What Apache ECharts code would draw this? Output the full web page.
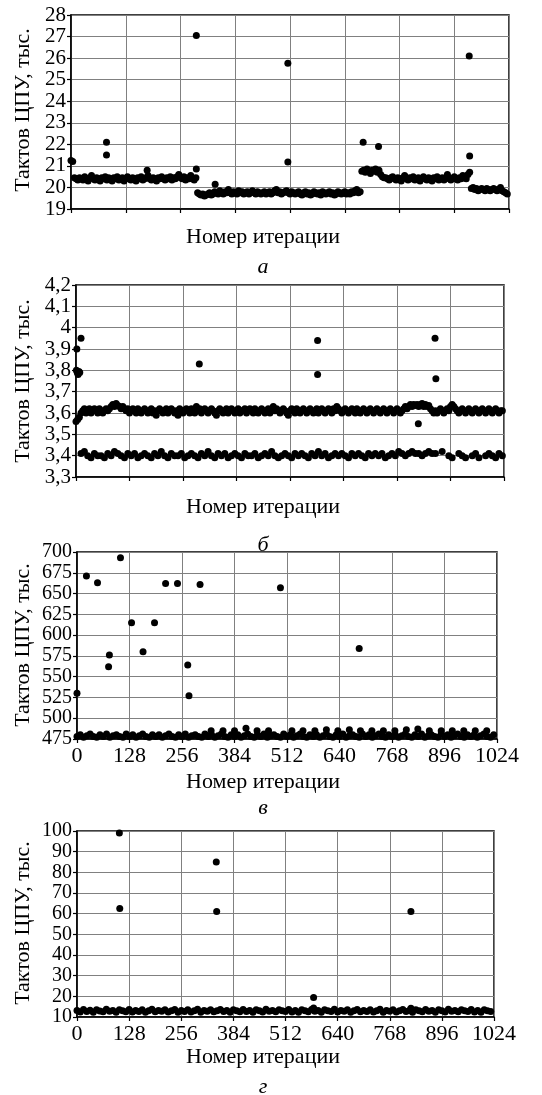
<!DOCTYPE html>
<html><head><meta charset="utf-8">
<script src="https://cdn.jsdelivr.net/npm/echarts@6/dist/echarts.min.js"></script>
<style>html,body{margin:0;padding:0;background:#fff}#c{width:542px;height:1095px}</style>
</head><body><div id="c"></div>
<script>
// ---------- Panel а: dense band, one point every 4 iterations ----------
const aStep = 4;
const aBand = [
21.25,21.2,20.45,20.4,20.35,20.45,20.4,20.35,20.5,20.4,
20.3,20.45,20.55,20.4,20.35,20.45,20.4,20.3,20.45,20.4,
20.5,20.35,20.45,20.4,20.3,20.45,20.4,20.5,20.35,20.4,
20.45,20.3,20.4,20.5,20.4,20.35,20.45,20.4,20.3,20.45,
20.4,20.5,20.35,20.4,20.45,20.55,20.4,20.35,20.45,20.4,
20.3,20.45,20.4,20.5,20.4,20.35,20.45,20.4,20.5,20.35,
20.45,20.4,20.5,20.6,20.45,20.4,20.5,20.35,20.45,20.4,
20.55,20.4,20.35,20.45,
19.75,19.7,19.65,19.7,19.6,19.65,19.7,19.75,19.65,19.7,
19.8,19.75,19.7,19.85,19.75,19.7,19.8,19.75,19.9,19.75,
19.7,19.8,19.75,19.7,19.85,19.75,19.8,19.7,19.75,19.8,
19.7,19.75,19.85,19.75,19.7,19.8,19.75,19.7,19.75,19.8,
19.7,19.75,19.8,19.7,19.75,19.85,19.9,19.75,19.8,19.7,
19.75,19.8,19.85,19.75,19.7,19.8,19.75,19.7,19.75,19.8,
19.7,19.65,19.75,19.8,19.7,19.75,19.65,19.7,19.8,19.75,
19.7,19.75,19.65,19.8,19.75,19.7,19.75,19.8,19.7,19.75,
19.65,19.7,19.8,19.75,19.7,19.75,19.8,19.7,19.75,19.7,
19.8,19.75,19.85,19.9,19.75,19.8,
20.75,20.8,20.7,20.85,20.75,20.65,20.8,20.75,20.85,20.7,20.8,20.6,20.5,20.45,
20.45,20.4,20.35,20.45,20.5,20.4,20.35,20.45,20.4,20.3,
20.45,20.55,20.4,20.35,20.45,20.4,20.5,20.35,20.4,20.45,
20.3,20.4,20.5,20.4,20.35,20.45,20.4,20.3,20.45,20.4,
20.5,20.35,20.4,20.45,20.35,20.4,20.6,20.45,20.35,20.4,
20.5,20.4,20.35,20.45,20.4,20.55,20.45,20.4,20.6,20.7,
19.95,20.0,19.9,19.95,19.85,19.9,19.95,19.9,19.85,19.95,19.9,
19.85,19.9,19.95,19.9,19.85,19.9,20.0,19.85,19.8,19.75,19.7
];
const aOutX = [83, 83, 178, 293, 293, 337, 507, 507, 683, 719, 931, 932];
const aOutY = [22.1, 21.5, 20.8, 27.05, 20.86, 20.15, 25.76, 21.18, 22.1, 21.9, 26.1, 21.46];

// ---------- Panel б ----------
const bStep = 4;
const bUpper = [
3.56,3.57,3.58,3.60,3.61,3.62,3.60,3.61,3.62,3.60,
3.61,3.62,3.61,3.60,3.62,3.61,3.60,3.61,3.62,3.61,
3.62,3.63,3.64,3.63,3.645,3.635,3.63,3.62,3.63,3.62,
3.61,3.62,3.60,3.61,3.62,3.61,3.60,3.62,3.61,3.60,
3.61,3.62,3.61,3.60,3.61,3.62,3.60,3.61,3.59,3.61,
3.62,3.61,3.60,3.61,3.62,3.60,3.61,3.62,3.61,3.60,
3.61,3.59,3.62,3.61,3.60,3.61,3.62,3.61,3.60,3.62,
3.61,3.60,3.63,3.61,3.62,3.60,3.61,3.62,3.61,3.60,
3.61,3.62,3.61,3.60,3.59,3.61,3.62,3.61,3.60,3.61,
3.62,3.60,3.61,3.62,3.61,3.60,3.61,3.62,3.60,3.61,
3.61,3.62,3.60,3.61,3.62,3.61,3.60,3.62,3.61,3.60,
3.61,3.62,3.61,3.60,3.61,3.62,3.60,3.61,3.63,3.61,
3.62,3.61,3.60,3.61,3.62,3.61,3.60,3.59,3.61,3.62,
3.61,3.60,3.62,3.61,3.60,3.61,3.62,3.61,3.60,3.61,
3.62,3.61,3.60,3.61,3.62,3.60,3.61,3.62,3.61,3.60,
3.61,3.62,3.61,3.60,3.62,3.61,3.63,3.62,3.61,3.60,
3.61,3.62,3.61,3.60,3.61,3.62,3.61,3.60,3.62,3.61,
3.60,3.61,3.62,3.61,3.60,3.61,3.62,3.61,3.60,3.61,
3.62,3.61,3.60,3.61,3.62,3.61,3.60,3.61,3.62,3.61,
3.60,3.61,3.62,3.61,3.60,3.61,3.62,3.63,3.62,3.63,
3.64,3.63,3.64,3.635,3.64,3.63,3.64,3.645,3.63,3.64,
3.63,3.635,3.62,3.61,3.60,3.61,3.60,3.61,3.62,3.61,
3.60,3.61,3.62,3.61,3.63,3.64,3.63,3.62,3.61,3.60,
3.61,3.62,3.61,3.60,3.61,3.62,3.61,3.60,3.61,3.62,
3.61,3.60,3.61,3.62,3.61,3.60,3.61,3.62,3.61,3.60,
3.61,3.62,3.61,3.60,3.61,3.61
];
const bLowStep = 8;
const bLower = [
null,3.41,3.42,3.40,3.39,3.41,3.40,3.40,3.39,3.41,
3.40,3.42,3.41,3.40,3.39,3.41,3.40,3.41,3.39,3.40,
3.41,3.40,3.39,3.41,3.40,3.42,3.40,3.39,3.41,3.40,
3.40,3.41,3.39,3.40,3.41,3.40,3.39,3.41,3.40,3.42,
3.40,3.39,3.41,3.40,3.41,3.39,3.40,3.41,3.40,3.39,
3.41,3.40,3.40,3.41,3.39,3.40,3.41,3.40,3.42,3.40,
3.39,3.40,3.41,3.40,3.39,3.41,3.40,3.41,3.40,3.39,
3.41,3.40,3.42,3.40,3.41,3.39,3.40,3.41,3.40,3.41,
3.40,3.39,3.41,3.40,3.41,3.40,3.39,3.41,3.40,3.41,
3.40,3.41,3.39,3.40,3.41,3.40,3.42,3.41,3.40,3.41,
3.42,3.41,3.41,3.40,3.41,3.42,3.41,3.41,null,3.42,
null,3.40,3.39,null,3.41,3.40,3.39,null,3.40,3.41,
3.39,null,3.40,3.41,3.40,3.39,3.41,3.40
];
const bOutX = [2, 12, 1, 3, 5, 7, 9, 295, 578, 578, 819, 859, 861];
const bOutY = [3.90, 3.95, 3.80, 3.79, 3.78, 3.795, 3.79, 3.83, 3.94, 3.78, 3.55, 3.95, 3.76];

// ---------- Panel в ----------
const cStep = 8;
const cBand = [
478,480,477,479,481,478,477,480,478,481,477,479,480,478,477,481,
478,480,477,479,481,478,477,480,478,480,477,479,481,478,477,480,
478,481,477,479,480,478,477,481,478,480,477,479,481,478,477,480,
478,480,477,479,481,478,477,480,478,481,477,479,480,478,477,481,
478,480,477,479,481,478,477,480,478,480,477,479,481,478,477,480,
478,481,477,479,480,478,477,481,478,480,477,479,481,478,477,480,
478,480,477,479,481,478,477,480,478,481,477,479,480,478,477,481,
478,480,477,479,481,478,477,480,478,480,477,479,481,478,477,480
];
const cPerX = [327,356,384,412,439,467,524,551,580,608,636,664,691,719,747,775,803,831,859,888,915,943,971,999];
const cPerY = [485,485,485,488,485,485,485,485,485,486,485,486,485,485,485,485,486,487,485,485,485,485,485,485];
const cOutX = [0, 23, 50, 77, 79, 106, 133, 161, 189, 216, 245, 270, 273, 300, 496, 688];
const cOutY = [530, 671, 663, 562, 576, 693, 615, 580, 615, 662, 662, 564, 527, 661, 657, 584];

// ---------- Panel г ----------
const dStep = 8;
const dBand = [
13.1,12.4,13.6,12.7,13.3,12.3,13.5,12.9,12.5,13.7,12.8,13.2,12.3,13.5,13.0,12.6,
13.6,12.4,13.2,12.7,13.5,12.3,13.0,13.7,12.5,13.2,12.8,13.5,12.4,13.0,13.6,12.3,
13.2,12.7,13.5,12.4,13.0,13.7,12.3,13.2,12.8,13.5,12.5,13.0,13.6,12.7,13.2,12.3,
13.5,13.0,12.5,13.6,12.7,13.2,12.3,13.5,13.0,12.4,13.7,12.8,13.2,12.5,13.5,13.0,
12.7,13.6,12.4,13.2,12.3,13.5,13.0,12.5,13.6,12.8,13.2,12.3,13.5,13.0,12.7,13.7,
12.4,13.2,12.8,13.5,12.3,13.0,13.6,12.5,13.2,12.7,13.5,12.4,13.0,13.7,12.3,13.2,
12.8,13.5,12.4,13.0,13.6,12.7,13.2,12.3,13.5,13.0,12.5,13.6,12.8,13.2,12.3,13.5,
13.0,12.4,13.7,12.8,13.2,12.5,13.5,13.0,12.7,13.6,12.4,13.2,12.3,13.5,13.0,12.7
];
const dOutX = [104, 105, 342, 343, 581, 581, 820, 820];
const dOutY = [99, 62.5, 85, 61, 19.4, 14.3, 61, 14.2];

// ---------- Text ----------
const xName = 'Номер итерации';
const yName = 'Тактов ЦПУ, тыс.';
const panelLetters = ['а', 'б', 'в', 'г'];

// ---------- helpers ----------
const seq = (vals, step, off) => vals.map((v, i) => v == null ? null : [off + i * step, v]).filter(Boolean);
const pairs = (xs, ys) => xs.map((x, i) => [x, ys[i]]);

const FAM = 'Liberation Serif';
const FONT = "'Liberation Serif', serif";
const grids = [
  {left: 71, top: 15, width: 438, height: 194},
  {left: 76, top: 285, width: 428, height: 192},
  {left: 77, top: 552, width: 420, height: 187},
  {left: 77, top: 831, width: 417, height: 186}
];
const yRanges = [
  {min: 19, max: 28, interval: 1},
  {min: 3.3, max: 4.2, interval: 0.1},
  {min: 475, max: 700, interval: 25},
  {min: 10, max: 100, interval: 10}
];
const yLabelSize = [21, 21, 20, 20];
const xLabelsShown = [false, false, true, true];
const nameY = [237, 507, 782, 1057];
const letterY = [267, 545, 808, 1087];
const yNameCY = [110, 381, 645, 923];

const axisLine = {show: true, onZero: false, lineStyle: {color: '#000', width: 1.5}};
const axisTick = {show: true, inside: false, length: 4, lineStyle: {color: '#000', width: 1.2}};
const splitLine = {show: true, lineStyle: {color: '#808080', width: 1}};

const option = {
  animation: false,
  backgroundColor: '#fff',
  textStyle: {fontFamily: FAM},
  grid: grids.map(g => Object.assign({show: true, borderColor: '#000', borderWidth: 1.5, containLabel: false}, g)),
  xAxis: grids.map((g, k) => ({
    type: 'value', gridIndex: k, min: 0, max: 1024, interval: 128,
    axisLine, axisTick, splitLine,
    axisLabel: {show: xLabelsShown[k], fontFamily: FAM, fontSize: 22, color: '#000', margin: 6,
      showMinLabel: true, showMaxLabel: true, hideOverlap: false,
      formatter: v => String(v)}
  })),
  yAxis: yRanges.map((r, k) => ({
    type: 'value', gridIndex: k, min: r.min, max: r.max, interval: r.interval,
    axisLine, axisTick, splitLine,
    axisLabel: {
      fontFamily: FAM, fontSize: yLabelSize[k], color: '#000', margin: 5,
      showMinLabel: true, showMaxLabel: true, hideOverlap: false,
      formatter: v => String(Math.round(v * 10) / 10).replace('.', ',')
    }
  })),
  series: [],
  graphic: []
};

const panelData = [
  [seq(aBand, aStep, 0), pairs(aOutX, aOutY)],
  [seq(bUpper, bStep, 0), seq(bLower, bLowStep, 4), pairs(bOutX, bOutY)],
  [seq(cBand, cStep, 0), pairs(cPerX, cPerY), pairs(cOutX, cOutY)],
  [seq(dBand, dStep, 0), pairs(dOutX, dOutY)]
];
panelData.forEach((list, k) => {
  list.forEach(d => option.series.push({
    type: 'scatter', xAxisIndex: k, yAxisIndex: k, data: d,
    symbol: 'circle', symbolSize: 7, silent: true,
    itemStyle: {color: '#000', opacity: 1}
  }));
});

for (let k = 0; k < 4; k++) {
  option.graphic.push({
    type: 'text', x: 263, y: nameY[k], silent: true,
    style: {text: xName, font: '22px ' + FONT, fill: '#000', align: 'center', verticalAlign: 'middle', textAlign: 'center', textVerticalAlign: 'middle'}
  });
  option.graphic.push({
    type: 'text', x: 263, y: letterY[k], silent: true,
    style: {text: panelLetters[k], font: 'italic 22px ' + FONT, fill: '#000', align: 'center', verticalAlign: 'middle', textAlign: 'center', textVerticalAlign: 'middle'}
  });
  option.graphic.push({
    type: 'text', x: 23, y: yNameCY[k], rotation: Math.PI / 2, silent: true,
    style: {text: yName, font: '22px ' + FONT, fill: '#000', align: 'center', verticalAlign: 'middle', textAlign: 'center', textVerticalAlign: 'middle'}
  });
}

const chart = echarts.init(document.getElementById('c'), null, {renderer: 'canvas'});
chart.setOption(option);
</script>
</body></html>
